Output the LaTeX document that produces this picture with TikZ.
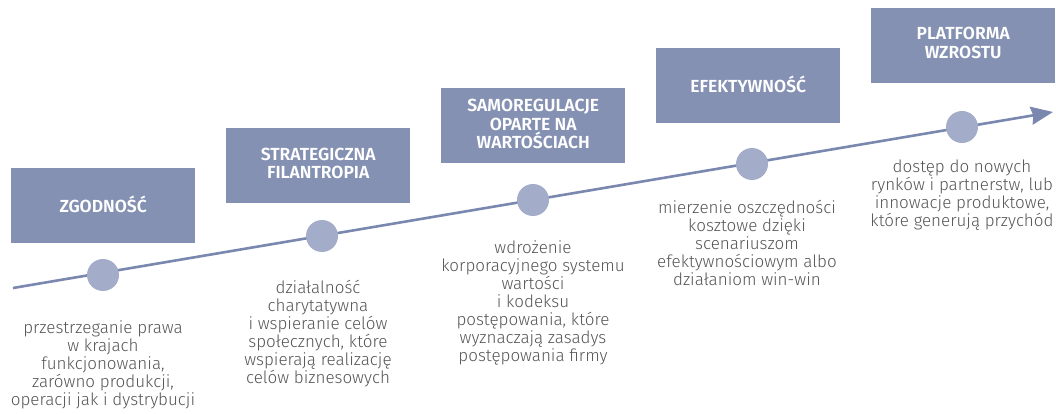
\documentclass[tikz,border=0pt]{standalone}
\usepackage{fontspec}
\setmainfont{Fira Sans}[UprightFont=* Light, BoldFont=* SemiBold]
\usetikzlibrary{arrows.meta}
\definecolor{boxc}{HTML}{8591B3}
\definecolor{dotc}{HTML}{A3ADC9}
\definecolor{linec}{HTML}{7A88B0}
\definecolor{txtc}{HTML}{555555}
\tikzset{
  stagebox/.style={fill=boxc, minimum width=184pt, minimum height=75pt, inner sep=0pt, anchor=north west},
  title/.style={text=white, font=\bfseries\fontsize{17.5}{18.5}\selectfont, align=center},
  dot/.style={circle, fill=dotc, minimum size=32pt, inner sep=0pt},
  desc/.style={text=txtc, font=\fontsize{17}{18}\selectfont, align=center, anchor=north, inner sep=0pt},
  timeline/.style={draw=linec, line width=2.6pt, -{Stealth[length=22pt,width=18pt,inset=2pt]}}
}
\begin{document}
\begin{tikzpicture}[x=1pt,y=-1pt]
\useasboundingbox (0,0) rectangle (1056,414);
% boxes
\node[stagebox] (b1) at (11,168) {};
\node[stagebox] (b2) at (226,128) {};
\node[stagebox] (b3) at (441,88) {};
\node[stagebox] (b4) at (656,48) {};
\node[stagebox] (b5) at (871,8) {};
\node[title] (h1) at ([yshift=1.5pt]b1.center) {ZGODNOŚĆ};
\node[title] (h2) at ([yshift=2.5pt]b2.center) {STRATEGICZNA\\FILANTROPIA};
\node[title] (h3) at ([yshift=1.5pt]b3.center) {SAMOREGULACJE\\OPARTE NA\\WARTOŚCIACH};
\node[title] (h4) at ([yshift=1.5pt]b4.center) {EFEKTYWNOŚĆ};
\node[title] (h5) at ([yshift=3pt]b5.center) {PLATFORMA\\WZROSTU};
% timeline
\coordinate (s) at (13,288);
\coordinate (e) at (1053,112);
\draw[timeline] (s) -- (e);
\node[dot] (c1) at (103,275) {};
\node[dot] (c2) at (322,236) {};
\node[dot] (c3) at (533,200) {};
\node[dot] (c4) at (752,164) {};
\node[dot] (c5) at (962,127) {};
% descriptions
\node[desc] (t1) at (103,320) {przestrzeganie prawa\\w krajach\\funkcjonowania,\\zarówno produkcji,\\operacji jak i dystrybucji};
\node[desc] (t2) at (318,280) {działalność\\charytatywna\\i wspieranie celów\\społecznych, które\\wspierają realizację\\celów biznesowych};
\node[desc] (t3) at (533,240) {wdrożenie\\korporacyjnego systemu\\wartości\\i kodeksu\\postępowania, które\\wyznaczają zasadys\\postępowania firmy};
\node[desc] (t4) at (747,200) {mierzenie oszczędności\\kosztowe dzięki\\scenariuszom\\efektywnościowym albo\\działaniom win-win};
\node[desc] (t5) at (962,160) {dostęp do nowych\\rynków i partnerstw, lub\\innowacje produktowe,\\które generują przychód};
\end{tikzpicture}
\end{document}
